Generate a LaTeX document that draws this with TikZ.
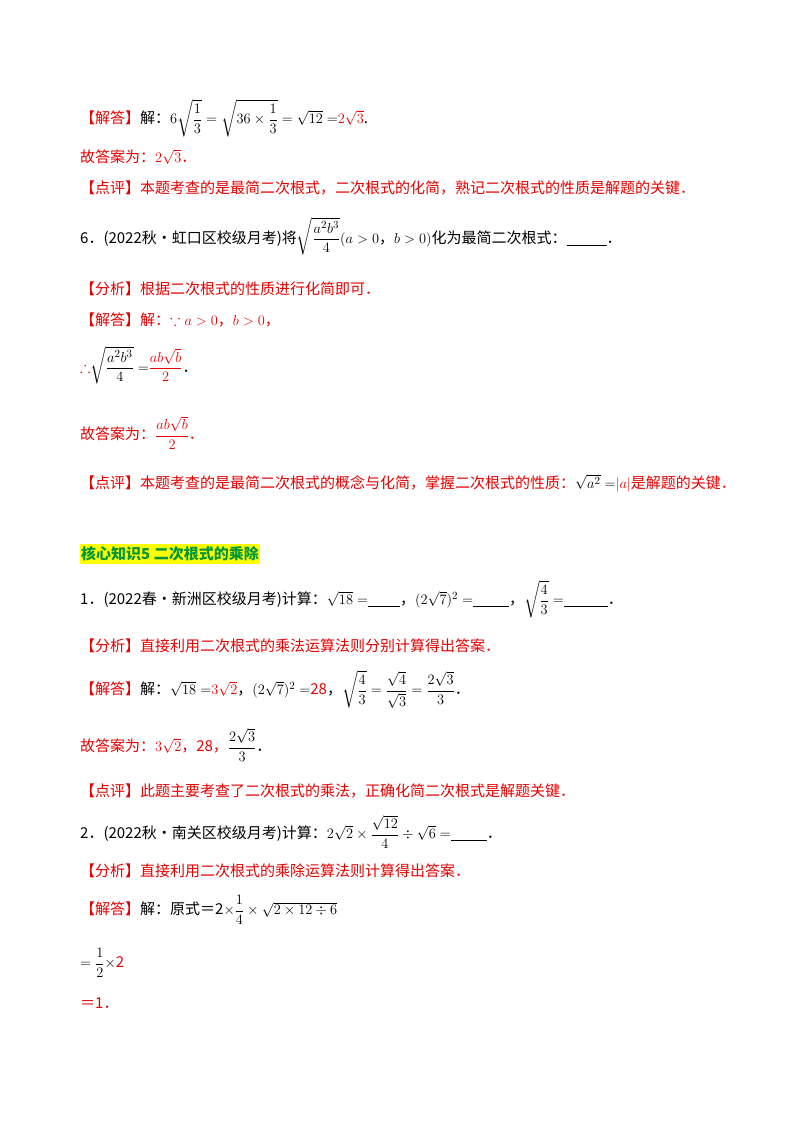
\documentclass[tikz,border=0pt]{standalone}
\usepackage{amsmath,amssymb}
\usepackage{fontspec}
\setmainfont{Noto Sans CJK SC}
\DeclareMathSizes{15}{15.5}{11}{9}
\definecolor{rd}{RGB}{230,0,0}
\definecolor{gn}{RGB}{0,150,60}
\definecolor{hl}{RGB}{255,255,0}
\newcommand{\R}[1]{\textcolor{rd}{#1}}
\begin{document}
\begin{tikzpicture}[x=1pt,y=-1pt,
  ln/.style={anchor=west,inner sep=0pt,font=\fontsize{15}{18}\selectfont}]
\useasboundingbox (0,0) rectangle (800,1132);
\fill[white] (0,0) rectangle (800,1132);
\node[ln] (l1) at (80,118) {\R{【解答】}解：$6\sqrt{\dfrac13}=\sqrt{36\times\dfrac13}=\sqrt{12}=$\R{$2\sqrt3$}.};
\node[ln] (l2) at (80,157) {\R{故答案为：$2\sqrt3$．}};
\node[ln] (l3) at (80,188) {\R{【点评】本题考查的是最简二次根式，二次根式的化简，熟记二次根式的性质是解题的关键．}};
\node[ln] (l4) at (80,236) {6．(2022秋•虹口区校级月考)将$\sqrt{\dfrac{a^2b^3}{4}}(a>0$，$b>0)$化为最简二次根式：\underline{\hspace{40pt}}．};
\node[ln] (l5) at (80,289) {\R{【分析】根据二次根式的性质进行化简即可．}};
\node[ln] (l6) at (80,320) {\R{【解答】解：$\because a>0$，$b>0$，}};
\node[ln] (l7) at (80,365) {\R{$\therefore$}$\sqrt{\dfrac{a^2b^3}{4}}=$\R{$\dfrac{ab\sqrt b}{2}$}．};
\node[ln] (l8) at (80,433) {\R{故答案为：$\dfrac{ab\sqrt b}{2}$．}};
\node[ln] (l9) at (80,483) {\R{【点评】本题考查的是最简二次根式的概念与化简，掌握二次根式的性质：}$\sqrt{a^2}=$\R{$|a|$}\R{是解题的关键．}};
\node[ln,fill=hl,inner xsep=1pt,inner ysep=3pt,text=gn,font=\fontsize{15}{18}\selectfont\bfseries] (h) at (80,554) {核心知识5\ 二次根式的乘除};
\node[ln] (m1) at (80,599) {1．(2022春•新洲区校级月考)计算：$\sqrt{18}=$\underline{\hspace{32pt}}，$(2\sqrt7)^2=$\underline{\hspace{36pt}}，$\sqrt{\dfrac43}=$\underline{\hspace{44pt}}．};
\node[ln] (m2) at (80,646) {\R{【分析】直接利用二次根式的乘法运算法则分别计算得出答案．}};
\node[ln] (m3) at (80,689) {\R{【解答】}解：$\sqrt{18}=$\R{$3\sqrt2$}，$(2\sqrt7)^2=$\R{28}，$\sqrt{\dfrac43}=\dfrac{\sqrt4}{\sqrt3}=\dfrac{2\sqrt3}{3}$．};
\node[ln] (m4) at (80,745) {\R{故答案为：$3\sqrt2$，28，}$\dfrac{2\sqrt3}{3}$．};
\node[ln] (m5) at (80,791) {\R{【点评】此题主要考查了二次根式的乘法，正确化简二次根式是解题关键．}};
\node[ln] (m6) at (80,832) {2．(2022秋•南关区校级月考)计算：$2\sqrt2\times\dfrac{\sqrt{12}}{4}\div\sqrt6=$\underline{\hspace{36pt}}．};
\node[ln] (m7) at (80,871) {\R{【分析】直接利用二次根式的乘除运算法则计算得出答案．}};
\node[ln] (m8) at (80,910) {\R{【解答】}解：原式＝2$\times\dfrac14\times\sqrt{2\times12\div6}$};
\node[ln] (m9) at (80,963) {$=\dfrac12\times$\R{2}};
\node[ln] (m10) at (80,1003) {\R{＝1．}};
\end{tikzpicture}
\end{document}
